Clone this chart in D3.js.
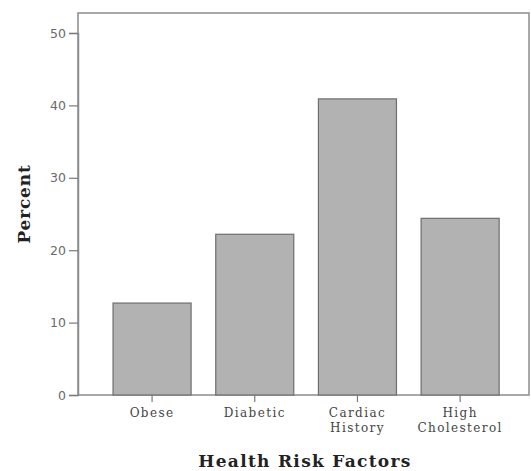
<!DOCTYPE html>
<html><head><meta charset="utf-8">
<script src="https://cdn.jsdelivr.net/npm/d3@7"></script>
<style>body{margin:0;background:#fff}</style>
</head><body>
<svg id="c" width="531" height="471"></svg>
<script>
const categories = ["Obese", "Diabetic", "Cardiac History", "High Cholesterol"];
const categoryLines = [["Obese"], ["Diabetic"], ["Cardiac", "History"], ["High", "Cholesterol"]];
const percents = [12.7, 22.2, 40.9, 24.4];
const yTicks = [0, 10, 20, 30, 40, 50];

const svg = d3.select("#c");
const frame = {left: 78, top: 13, right: 529, bottom: 395};
const y = d3.scaleLinear().domain([0, 50]).range([395, 33]);
const x = d3.scaleBand().domain(categories).range([88.4, 523.8]).padding(0.24);

// frame
svg.append("rect").attr("x", frame.left).attr("y", frame.top)
  .attr("width", frame.right - frame.left).attr("height", frame.bottom - frame.top)
  .attr("fill", "none").attr("stroke", "#8c8c8c").attr("stroke-width", 1.5);

// bars
svg.selectAll("rect.bar").data(percents).join("rect").attr("class", "bar")
  .attr("x", (d, i) => x(categories[i]))
  .attr("y", d => y(d))
  .attr("width", x.bandwidth())
  .attr("height", d => y(0) - y(d))
  .attr("fill", "#b2b2b2").attr("stroke", "#6e6e6e").attr("stroke-width", 1.2);

// y axis
const ya = svg.append("g").attr("transform", `translate(${frame.left},0)`)
  .call(d3.axisLeft(y).tickValues(yTicks).tickSize(9).tickPadding(3).tickFormat(d3.format("d")));
ya.select(".domain").attr("stroke", "#8c8c8c").attr("stroke-width", 1.5);
ya.selectAll(".tick line").attr("stroke", "#7a7a7a").attr("stroke-width", 1.2);
ya.selectAll(".tick text").attr("fill", "#6a6a6a").style("font-family", "DejaVu Sans, sans-serif").style("font-size", "12.5px");

// x axis
const xa = svg.append("g").attr("transform", `translate(0,${frame.bottom})`)
  .call(d3.axisBottom(x).tickSize(7).tickFormat(""));
xa.select(".domain").remove();
xa.selectAll(".tick line").attr("stroke", "#7a7a7a").attr("stroke-width", 1.2);
xa.selectAll(".tick").each(function(d, i) {
  const t = d3.select(this).append("text").attr("fill", "#444")
    .attr("text-anchor", "middle")
    .style("font-family", "DejaVu Serif, serif").style("font-size", "12px")
    .style("letter-spacing", "1.4px");
  categoryLines[i].forEach((ln, j) => {
    t.append("tspan").attr("x", 0).attr("y", 22 + j * 15).text(ln);
  });
});

// axis titles
svg.append("text").attr("x", 305).attr("y", 467).attr("text-anchor", "middle")
  .style("font-family", "DejaVu Serif, serif").style("font-weight", "bold").style("font-size", "17px")
  .style("letter-spacing", "1.3px")
  .attr("fill", "#222").text("Health Risk Factors");
svg.append("text").attr("transform", "translate(30,204) rotate(-90)").attr("text-anchor", "middle")
  .style("font-family", "DejaVu Serif, serif").style("font-weight", "bold").style("font-size", "17px")
  .style("letter-spacing", "0.8px")
  .attr("fill", "#222").text("Percent");
</script>
</body></html>
